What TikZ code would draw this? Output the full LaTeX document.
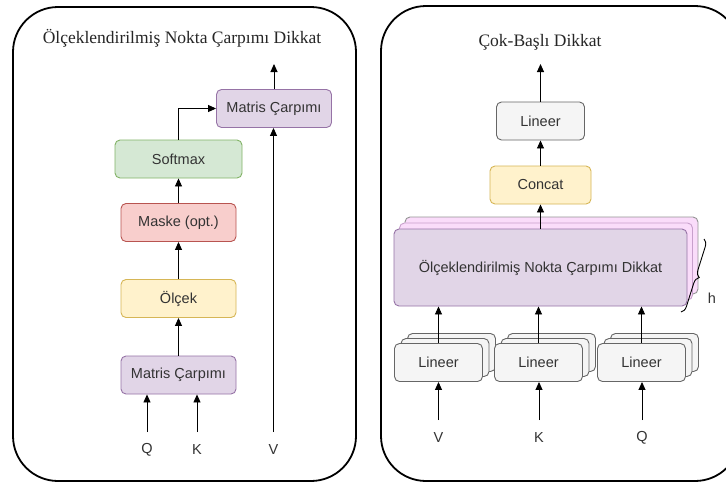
\documentclass[tikz,border=0pt]{standalone}
\usepackage{fontspec}
\setmainfont{Liberation Serif}
\setsansfont{Liberation Sans}
\usetikzlibrary{arrows.meta,decorations.pathreplacing}

\definecolor{purpleF}{HTML}{E1D5E7}\definecolor{purpleD}{HTML}{9673A6}
\definecolor{greenF}{HTML}{D5E8D4}\definecolor{greenD}{HTML}{82B366}
\definecolor{redF}{HTML}{F8CECC}\definecolor{redD}{HTML}{B85450}
\definecolor{yellowF}{HTML}{FFF2CC}\definecolor{yellowD}{HTML}{D6B656}
\definecolor{greyF}{HTML}{F5F5F5}\definecolor{greyD}{HTML}{666666}
\definecolor{pinkF}{HTML}{FADCFA}\definecolor{pinkD}{HTML}{C8A0CC}
\definecolor{txt}{HTML}{333333}

\tikzset{
  box/.style={draw, rounded corners=5pt, line width=0.9pt, minimum width=#1,
    minimum height=38pt, inner sep=0pt, text=txt,
    font=\sffamily\fontsize{14.5}{16}\selectfont},
  box/.default=115pt,
  purplebox/.style={box=#1, fill=purpleF, draw=purpleD},
  purplebox/.default=115pt,
  greenbox/.style={box=127pt, fill=greenF, draw=greenD},
  redbox/.style={box=115pt, fill=redF, draw=redD},
  yellowbox/.style={box=#1, fill=yellowF, draw=yellowD},
  yellowbox/.default=115pt,
  greybox/.style={box=#1, fill=greyF, draw=greyD},
  greybox/.default=88pt,
  panel/.style={draw, line width=1.8pt, rounded corners=45pt},
  arr/.style={-{Triangle[length=8pt,width=7pt]}, line width=0.9pt},
  lbl/.style={text=txt, font=\sffamily\fontsize{14.5}{16}\selectfont, inner sep=1pt},
  ttl/.style={font=\rmfamily\fontsize{17.5}{20}\selectfont, text=black!85, inner sep=1pt}
}

\begin{document}
\begin{tikzpicture}[x=1pt,y=-1pt]
\useasboundingbox (0,0) rectangle (726,483);
\fill[white] (0,0) rectangle (726,483);

% ---------- left panel: scaled dot-product attention ----------
\draw[panel] (13,7) rectangle (356,481);
\node[ttl] (t1) at (182,38) {Ölçeklendirilmiş Nokta Çarpımı Dikkat};

\node[purplebox] (mm2) at (274,108.5) {Matris Çarpımı};
\node[greenbox]  (sm)  at (178.5,159) {Softmax};
\node[redbox]    (mk)  at (178.5,222.5) {Maske (opt.)};
\node[yellowbox] (sc)  at (178.5,298.5) {Ölçek};
\node[purplebox] (mm1) at (178.5,375) {Matris Çarpımı};

\node[lbl] (q1) at (147,450) {Q};
\node[lbl] (k1) at (197,450) {K};
\node[lbl] (v1) at (273.5,450) {V};
\coordinate (out1) at (274,64);

\draw[arr] (q1.north |- 0,432) -- (q1.north |- mm1.south);
\draw[arr] (k1.north |- 0,432) -- (k1.north |- mm1.south);
\draw[arr] (v1.north |- 0,432) -- (v1.north |- mm2.south);
\draw[arr] (mm1) -- (sc);
\draw[arr] (sc) -- (mk);
\draw[arr] (mk) -- (sm);
\draw[arr] (sm.north) |- (mm2.west);
\draw[arr] (mm2.north) -- (out1);

% ---------- right panel: multi-head attention ----------
\draw[panel] (381,6) rectangle (740,481);
\node[ttl] (t2) at (540,42) {Çok-Başlı Dikkat};

\node[greybox]          (lo)  at (540.5,121) {Lineer};
\node[yellowbox=101pt]  (cc)  at (540.5,185) {Concat};

% stacked attention heads
\node[box=293pt, minimum height=77pt, fill=pinkF, draw=greyD!70] (h3) at (551.5,255.5) {};
\node[box=293pt, minimum height=77pt, fill=pinkF, draw=pinkD]    (h2) at (546,261.5) {};
\node[purplebox=293pt, minimum height=77pt] (sd) at (540.5,267.5) {Ölçeklendirilmiş Nokta Çarpımı Dikkat};

% stacked linear projections
\foreach \n/\cx in {a/438.5, b/538.5, c/641.5}{
  \node[greybox] (\n3) at (\cx+13,352.5) {};
  \node[greybox] (\n2) at (\cx+6.5,357.5) {};
  \node[greybox] (\n1) at (\cx,362.5) {Lineer};
}

\node[lbl] (v2) at (438.5,438) {V};
\node[lbl] (k2) at (539,438) {K};
\node[lbl] (q2) at (642,438) {Q};
\coordinate (out2) at (540.5,64);

\draw[arr] (v2.north |- 0,420) -- (v2.north |- a1.south);
\draw[arr] (k2.north |- 0,420) -- (k2.north |- b1.south);
\draw[arr] (q2.north |- 0,420) -- (q2.north |- c1.south);
\draw[arr] (a1.north) -- (a1.north |- sd.south);
\draw[arr] (b1.north) -- (b1.north |- sd.south);
\draw[arr] (c1.north) -- (c1.north |- sd.south);
\draw[arr] (sd.north -| cc.south) -- (cc.south);
\draw[arr] (cc) -- (lo);
\draw[arr] (lo.north) -- (out2);

% head-count brace
\coordinate (bt) at (704,239);
\coordinate (bb) at (681,312);
\draw[line width=0.9pt, decorate, decoration={brace, amplitude=7pt}] (bt) -- (bb);
\node[lbl] (hh) at (712,298) {h};
\end{tikzpicture}
\end{document}
